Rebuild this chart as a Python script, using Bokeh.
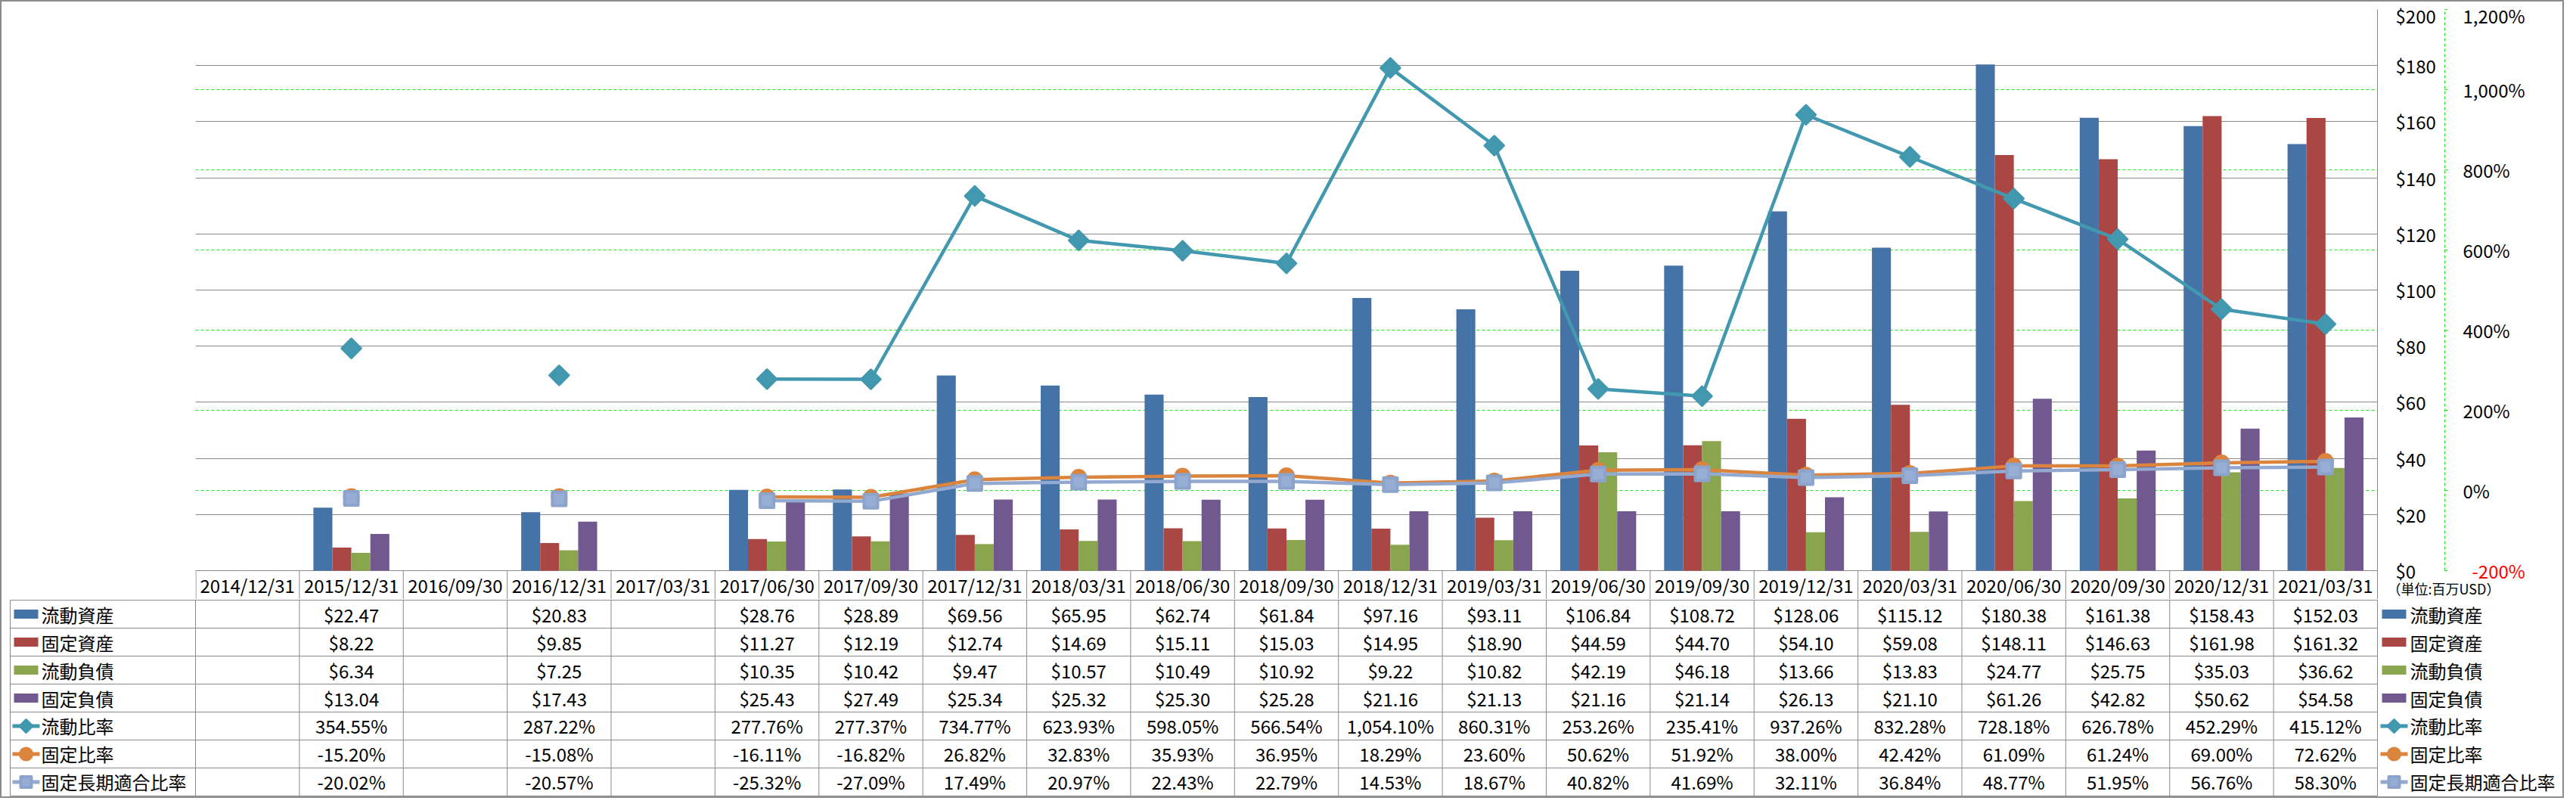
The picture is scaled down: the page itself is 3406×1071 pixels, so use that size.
import math
from bokeh.plotting import figure
from bokeh.layouts import column
from bokeh.models import (ColumnDataSource, Range1d, LinearAxis, Grid,
                          SingleIntervalTicker, FixedTicker, NumeralTickFormatter,
                          CustomJSTickFormatter)
from bokeh.transform import dodge
from bokeh.core.properties import value
from bokeh.embed import file_html
from bokeh.resources import INLINE

# ---------------- data ----------------
dates = ["2014/12/31", "2015/12/31", "2016/09/30", "2016/12/31", "2017/03/31",
         "2017/06/30", "2017/09/30", "2017/12/31", "2018/03/31", "2018/06/30",
         "2018/09/30", "2018/12/31", "2019/03/31", "2019/06/30", "2019/09/30",
         "2019/12/31", "2020/03/31", "2020/06/30", "2020/09/30", "2020/12/31",
         "2021/03/31"]
current_assets = [None, 22.47, None, 20.83, None, 28.76, 28.89, 69.56, 65.95, 62.74,
                  61.84, 97.16, 93.11, 106.84, 108.72, 128.06, 115.12, 180.38, 161.38,
                  158.43, 152.03]
fixed_assets = [None, 8.22, None, 9.85, None, 11.27, 12.19, 12.74, 14.69, 15.11,
                15.03, 14.95, 18.90, 44.59, 44.70, 54.10, 59.08, 148.11, 146.63,
                161.98, 161.32]
current_liab = [None, 6.34, None, 7.25, None, 10.35, 10.42, 9.47, 10.57, 10.49,
                10.92, 9.22, 10.82, 42.19, 46.18, 13.66, 13.83, 24.77, 25.75,
                35.03, 36.62]
fixed_liab = [None, 13.04, None, 17.43, None, 25.43, 27.49, 25.34, 25.32, 25.30,
              25.28, 21.16, 21.13, 21.16, 21.14, 26.13, 21.10, 61.26, 42.82,
              50.62, 54.58]
current_ratio = [None, 354.55, None, 287.22, None, 277.76, 277.37, 734.77, 623.93,
                 598.05, 566.54, 1054.10, 860.31, 253.26, 235.41, 937.26, 832.28,
                 728.18, 626.78, 452.29, 415.12]
fixed_ratio = [None, -15.20, None, -15.08, None, -16.11, -16.82, 26.82, 32.83, 35.93,
               36.95, 18.29, 23.60, 50.62, 51.92, 38.00, 42.42, 61.09, 61.24,
               69.00, 72.62]
fixed_lt_ratio = [None, -20.02, None, -20.57, None, -25.32, -27.09, 17.49, 20.97,
                  22.43, 22.79, 14.53, 18.67, 40.82, 41.69, 32.11, 36.84, 48.77,
                  51.95, 56.76, 58.30]
series_names = ["流動資産", "固定資産", "流動負債", "固定負債",
                "流動比率", "固定比率", "固定長期適合比率"]
unit_text = "（単位:百万USD）"

# ---------------- style ----------------
C_BLUE, C_RED, C_GREEN, C_PURPLE = "#4572A7", "#AA4643", "#89A54E", "#71588F"
C_TEAL, C_ORANGE, C_LBLUE = "#4198AF", "#DB843D", "#93A9CF"
GRAY = "#898989"
LIME = "#1EE81E"
FONT = "Noto Sans CJK JP"
FS = "24px"

W = 3386
FL, FR, FT = 256, 245, 10
PLOT_H = 742                 # height of the value area
HDR = 38                     # header row (category labels) height
CH = FT + PLOT_H + HDR
TH = 261
FW = W - FL - FR
N = len(dates)
CW = FW / N
NR = len(series_names)
PX_D = PLOT_H / 200.0        # px per $
PX_P = PLOT_H / 1400.0       # px per %

nan = float("nan")


def arr(v):
    return [nan if x is None else x for x in v]


xi = [i + 0.5 for i in range(N)]   # category centres on the linear x scale
src = ColumnDataSource(dict(x=xi, cat=dates, ca=arr(current_assets), fa=arr(fixed_assets),
                            cl=arr(current_liab), fl=arr(fixed_liab),
                            cr=arr(current_ratio), fr=arr(fixed_ratio),
                            flr=arr(fixed_lt_ratio)))

# ---------------- chart (value area + header row) ----------------
p = figure(width=W, height=CH, x_range=Range1d(0, N),
           y_range=Range1d(-HDR / PX_D, 200), x_axis_type=None, y_axis_type=None,
           toolbar_location=None, output_backend="svg", title_location=None,
           min_border_left=FL, min_border_right=FR, min_border_top=FT,
           min_border_bottom=0, outline_line_color=None, frame_align=False)
p.extra_y_ranges = {"pct": Range1d(-200 - HDR / PX_P, 1200)}

yax = LinearAxis(ticker=SingleIntervalTicker(interval=20, num_minor_ticks=0),
                 formatter=NumeralTickFormatter(format="$0,0"),
                 axis_line_color=GRAY, major_tick_out=0, major_tick_in=0,
                 minor_tick_out=0, minor_tick_in=0, major_label_standoff=24,
                 major_label_text_font=FONT, major_label_text_font_size=FS,
                 major_label_text_color="black",
                 axis_label=" ", axis_label_text_font_size="5px", axis_label_standoff=0)
p.add_layout(yax, "right")

pax = LinearAxis(y_range_name="pct", bounds=(-200, 1200),
                 ticker=SingleIntervalTicker(interval=200, num_minor_ticks=0),
                 formatter=CustomJSTickFormatter(code="""
                     if (tick <= -200) return '';
                     return tick.toFixed(0).replace(/\\B(?=(\\d{3})+(?!\\d))/g, ',') + '%';
                 """),
                 axis_line_color=LIME, axis_line_dash="4 3", major_tick_out=4,
                 major_tick_in=0, major_tick_line_color=LIME, minor_tick_out=0,
                 minor_tick_in=0, major_label_standoff=20,
                 major_label_text_font=FONT, major_label_text_font_size=FS,
                 major_label_text_color="black")
p.add_layout(pax, "right")

# bottom tick of the percentage scale in red, pulled back onto pax' label column
rax = LinearAxis(y_range_name="pct", ticker=FixedTicker(ticks=[-200]),
                 formatter=CustomJSTickFormatter(code="return tick.toFixed(0) + '%';"),
                 axis_line_color=None, major_tick_line_color=None, major_tick_out=0,
                 major_tick_in=0, minor_tick_out=0, minor_tick_in=0,
                 major_label_standoff=-73, major_label_text_font=FONT,
                 major_label_text_font_size=FS, major_label_text_color="red")
p.add_layout(rax, "right")

# unit note, written just under the $0 label
uax = LinearAxis(y_range_name="pct", ticker=FixedTicker(ticks=[-200 - 27 / PX_P]),
                 formatter=CustomJSTickFormatter(args=dict(t=unit_text), code="return t;"),
                 axis_line_color=None, major_tick_line_color=None, major_tick_out=0,
                 major_tick_in=0, minor_tick_out=0, minor_tick_in=0,
                 major_label_standoff=-185, major_label_text_font=FONT,
                 major_label_text_font_size="18px", major_label_text_color="black")
p.add_layout(uax, "right")

p.add_layout(Grid(dimension=1, y_range_name="pct", ticker=pax.ticker,
                  grid_line_color=LIME, grid_line_dash="4 3"))
p.add_layout(Grid(dimension=1, ticker=yax.ticker, grid_line_color=GRAY))

bw = 0.1827
bars = [("ca", C_BLUE), ("fa", C_RED), ("cl", C_GREEN), ("fl", C_PURPLE)]
for k, (key, col) in enumerate(bars):
    p.vbar(x=dodge("x", (k - 1.5) * bw), top=key, width=bw,
           source=src, fill_color=col, line_color=None)

p.line(x="x", y="cr", source=src, y_range_name="pct", line_color=C_TEAL, line_width=4.5)
p.scatter(x="x", y="cr", source=src, y_range_name="pct", marker="square",
          angle=math.pi / 4, size=18, fill_color=C_TEAL, line_color=C_TEAL,
          line_width=3, line_join="round")
p.line(x="x", y="fr", source=src, y_range_name="pct", line_color=C_ORANGE, line_width=4.5)
p.scatter(x="x", y="fr", source=src, y_range_name="pct", marker="circle", size=20,
          fill_color=C_ORANGE, line_color=C_ORANGE, line_width=2)
p.line(x="x", y="flr", source=src, y_range_name="pct", line_color=C_LBLUE, line_width=4.5)
p.scatter(x="x", y="flr", source=src, y_range_name="pct", marker="square", size=18,
          fill_color="#97ADD3", line_color="#8CA3CC", line_width=4, line_join="round")

# header row of the data table (category labels)
hb = [max(b, 0.5 / CW) for b in range(N + 1)]
p.segment(x0=hb, x1=hb, y0=[0] * len(hb), y1=[-HDR / PX_D] * len(hb),
          line_color=GRAY, line_width=1)
p.text(x="x", y=-(HDR / 2) / PX_D, text="cat", source=src, text_font=value(FONT),
       text_font_size=FS, text_align="center", text_baseline="middle",
       text_color="black")

# ---------------- data table ----------------
pad = 0.03
t = figure(width=W, height=TH, x_range=Range1d(-FL / CW, (W - FL) / CW),
           y_range=Range1d(NR + pad, -pad), x_axis_type=None, y_axis_type=None,
           toolbar_location=None, output_backend="svg", title_location=None,
           min_border=0, min_border_left=0, min_border_right=0, min_border_top=0,
           min_border_bottom=0, outline_line_color=None, frame_align=False)

LEFT = -245 / CW
rows_y = list(range(NR + 1))
t.segment(x0=[LEFT] * len(rows_y), x1=[N] * len(rows_y), y0=rows_y, y1=rows_y,
          line_color=GRAY, line_width=1)
cols_x = [LEFT] + list(range(N + 1))
t.segment(x0=cols_x, x1=cols_x, y0=[0] * len(cols_x), y1=[NR] * len(cols_x),
          line_color=GRAY, line_width=1)

series_vals = [current_assets, fixed_assets, current_liab, fixed_liab,
               current_ratio, fixed_ratio, fixed_lt_ratio]
tx, ty, tt = [], [], []
for r, vals in enumerate(series_vals):
    for i, v in enumerate(vals):
        if v is None:
            continue
        tx.append(xi[i])
        ty.append(r + 0.5)
        tt.append(f"${v:,.2f}" if r < 4 else f"{v:,.2f}%")
t.text(x=tx, y=ty, text=tt, text_font=value(FONT), text_font_size=FS,
       text_align="center", text_baseline="middle", text_color="black")

swatch_colors = [C_BLUE, C_RED, C_GREEN, C_PURPLE, C_TEAL, C_ORANGE, C_LBLUE]
for cx, tx0 in [(-224 / CW, -204 / CW), (N + 22 / CW, N + 43 / CW)]:
    ry = [r + 0.5 for r in range(NR)]
    t.rect(x=[cx] * 4, y=ry[:4], width=32, height=12, width_units="screen",
           height_units="screen", fill_color=swatch_colors[:4], line_color=None)
    t.segment(x0=[cx - 18 / CW] * 3, x1=[cx + 18 / CW] * 3, y0=ry[4:], y1=ry[4:],
              line_color=swatch_colors[4:], line_width=5)
    t.scatter(x=[cx], y=[ry[4]], marker="square", angle=math.pi / 4, size=12,
              fill_color=C_TEAL, line_color=C_TEAL, line_width=3, line_join="round")
    t.scatter(x=[cx], y=[ry[5]], marker="circle", size=17, fill_color=C_ORANGE,
              line_color=C_ORANGE, line_width=2)
    t.scatter(x=[cx], y=[ry[6]], marker="square", size=14, fill_color="#97ADD3",
              line_color="#8CA3CC", line_width=4, line_join="round")
    t.text(x=[tx0] * NR, y=ry, text=series_names, text_font=value(FONT),
           text_font_size=FS, text_align="left", text_baseline="middle",
           text_color="black")

layout = column(p, t, styles={"border": "2px solid #8c8c8c"})
open("out.html", "w").write(file_html(layout, INLINE))
